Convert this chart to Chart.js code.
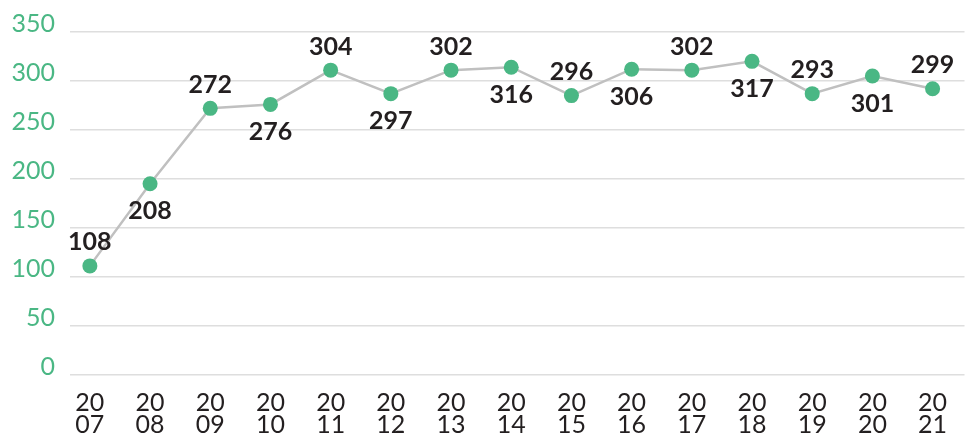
<!DOCTYPE html>
<html>
<head>
<meta charset="utf-8">
<script src="https://cdn.jsdelivr.net/npm/chart.js@4/dist/chart.umd.min.js"></script>
<style>
  html, body { margin: 0; padding: 0; background: #fff; }
  #wrap { width: 972px; height: 437px; position: relative; }
</style>
</head>
<body>
<div id="wrap"><canvas id="chart"></canvas></div>
<script>
// years on the x axis (shown on two lines)
const years = ["2007", "2008", "2009", "2010", "2011", "2012", "2013", "2014",
               "2015", "2016", "2017", "2018", "2019", "2020", "2021"];
// where the dots sit
const pointValues = [111, 195, 272, 276, 311, 287, 311, 314, 285, 312, 311, 320, 287, 305, 292];
// the numbers printed next to the dots
const valueLabels = ["108", "208", "272", "276", "304", "297", "302", "316",
                     "296", "306", "302", "317", "293", "301", "299"];
const yTicks = [0, 50, 100, 150, 200, 250, 300, 350];

const green = "#4ab784";
const dark = "#231f20";

// labels drawn above / below each dot, alternating
const valueLabelPlugin = {
    id: "valueLabels",
    afterDatasetsDraw(chart) {
        const ctx = chart.ctx;
        const meta = chart.getDatasetMeta(0);
        ctx.save();
        ctx.font = "bold 25px Lato";
        ctx.fillStyle = dark;
        ctx.textAlign = "center";
        ctx.textBaseline = "middle";
        meta.data.forEach((pt, i) => {
            const dy = i % 2 === 0 ? -23.5 : 27.5;
            ctx.fillText(valueLabels[i], pt.x, pt.y + dy);
        });
        ctx.restore();
    }
};

const ctx = document.getElementById("chart").getContext("2d");
new Chart(ctx, {
    type: "line",
    data: {
        datasets: [{
            data: pointValues.map((v, i) => ({ x: i, y: v })),
            borderColor: "#c0c0c0",
            borderWidth: 2.5,
            pointRadius: 7.5,
            pointHoverRadius: 7.5,
            pointBackgroundColor: green,
            pointBorderWidth: 0,
            tension: 0
        }]
    },
    options: {
        responsive: true,
        maintainAspectRatio: false,
        animation: false,
        layout: { padding: { top: 32, left: 0, right: 0, bottom: 0 } },
        plugins: { legend: { display: false }, tooltip: { enabled: false } },
        scales: {
            x: {
                type: "linear",
                min: -0.33,
                max: 14.53,
                grid: { display: false, drawTicks: false },
                border: { display: false },
                afterBuildTicks: (scale) => {
                    scale.ticks = years.map((y, i) => ({ value: i }));
                },
                afterFit: (scale) => { scale.height = 62.5; },
                ticks: {
                    padding: 17,
                    color: dark,
                    maxRotation: 0,
                    autoSkip: false,
                    font: { family: "Lato", size: 25, lineHeight: 0.9 },
                    callback: (v) => {
                        const y = years[Math.round(v)];
                        return y ? [y.slice(0, 2), y.slice(2)] : "";
                    }
                }
            },
            y: {
                min: 0,
                max: 350,
                grid: { color: "#dedede", lineWidth: 1.5, drawTicks: false },
                border: { display: false },
                afterBuildTicks: (scale) => {
                    scale.ticks = yTicks.map(v => ({ value: v }));
                },
                afterFit: (scale) => { scale.width = 70; },
                ticks: {
                    padding: 15,
                    labelOffset: -8,
                    color: green,
                    font: { family: "Lato", size: 25 }
                }
            }
        }
    },
    plugins: [valueLabelPlugin]
});
</script>
</body>
</html>
